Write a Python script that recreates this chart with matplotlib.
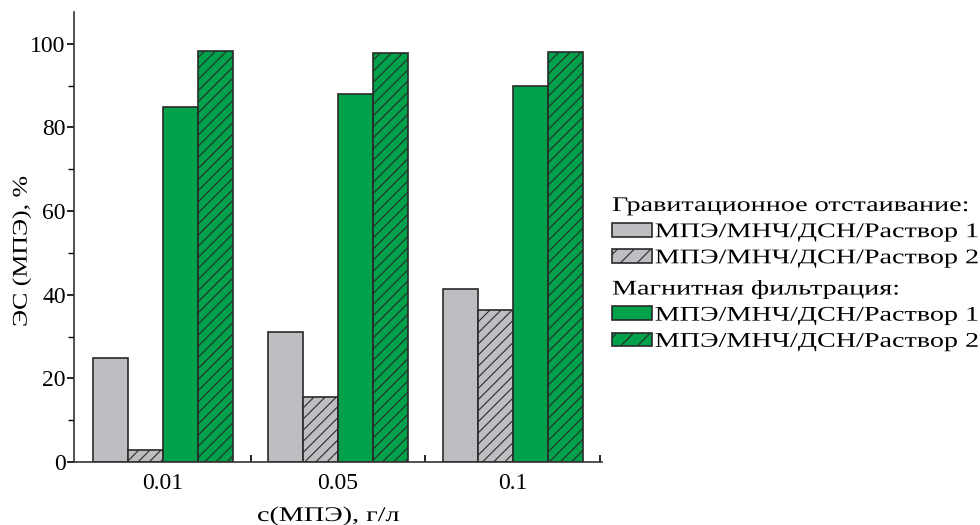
import numpy as np
import matplotlib.pyplot as plt
from matplotlib.patches import Patch
from matplotlib.patheffects import AbstractPathEffect
from matplotlib.transforms import Affine2D
from matplotlib.ticker import MultipleLocator, FixedLocator

plt.rcParams['font.family'] = ['Liberation Serif', 'DejaVu Serif']
plt.rcParams['hatch.linewidth'] = 0.8
plt.rcParams['hatch.color'] = '#2a2a2a'

# data
concentrations = ['0.01', '0.05', '0.1']
grav_sol1 = [24.9, 31.0, 41.3]
grav_sol2 = [2.8, 15.5, 36.3]
magn_sol1 = [84.8, 88.0, 89.9]
magn_sol2 = [98.2, 97.8, 98.0]

label_1 = 'МПЭ/МНЧ/ДСН/Раствор 1'
label_2 = 'МПЭ/МНЧ/ДСН/Раствор 2'

GREY = '#bdbec2'
GREEN = '#00a14b'
EDGE = '#2a2a2a'


class Wide(AbstractPathEffect):
    """stretch glyphs along the baseline (the original font is wider)"""
    def __init__(self, sx=1.35):
        super().__init__()
        self.sx = sx

    def draw_path(self, renderer, gc, tpath, affine, rgbFace=None):
        renderer.draw_path(gc, tpath, Affine2D().scale(self.sx, 1) + affine, rgbFace)


wide = [Wide(1.35)]

fig = plt.figure(figsize=(9.8, 5.25), dpi=100)
ax = fig.add_axes([74/980, 1-462/525, (602-74)/980, (462-12)/525])

x = np.arange(len(concentrations))
w = 0.2
styles = [(grav_sol1, GREY, ''), (grav_sol2, GREY, '///'),
          (magn_sol1, GREEN, ''), (magn_sol2, GREEN, '///')]
for i, (vals, col, hatch) in enumerate(styles):
    ax.bar(x + (i-1.5)*w, vals, width=w, color=col, edgecolor=EDGE,
           linewidth=1.2, hatch=hatch, zorder=2)

ax.set_xlim(-0.51, 2.51)
ax.set_ylim(0, 107.6)
ax.spines['top'].set_visible(False)
ax.spines['right'].set_visible(False)
for s in ['left', 'bottom']:
    ax.spines[s].set_linewidth(1.2)
    ax.spines[s].set_color('#333333')

ax.set_xticks(x)
ax.set_xticklabels(concentrations)
ax.xaxis.set_minor_locator(FixedLocator([0.5, 1.5, 2.5]))
ax.tick_params(axis='x', which='major', length=0, pad=8, labelsize=17)
ax.tick_params(axis='x', which='minor', direction='in', length=5, width=1.2)
ax.yaxis.set_major_locator(MultipleLocator(20))
ax.yaxis.set_minor_locator(MultipleLocator(10))
ax.tick_params(axis='y', which='major', direction='out', length=5, width=1.2,
               pad=1, labelsize=17)
ax.tick_params(axis='y', which='minor', direction='out', length=4, width=1.0)

# axis titles, left-anchored so the stretch grows away from the anchor
fig.text(257/980, 1-521/525, 'c(МПЭ), г/л', fontsize=15, ha='left',
         va='baseline', path_effects=wide)
fig.text(22/980, 1-327/525, 'ЭС (МПЭ), %', fontsize=15, rotation=90,
         ha='center', va='bottom', path_effects=[Wide(1.24)])

# legend in two blocks
h1 = [Patch(facecolor=GREY, edgecolor=EDGE, linewidth=1.2),
      Patch(facecolor=GREY, edgecolor=EDGE, linewidth=1.2, hatch='//')]
h2 = [Patch(facecolor=GREEN, edgecolor=EDGE, linewidth=1.2),
      Patch(facecolor=GREEN, edgecolor=EDGE, linewidth=1.2, hatch='//')]
kw = dict(frameon=False, fontsize=15, title_fontsize=15, alignment='left',
          handlelength=1.9, handleheight=0.65, handletextpad=0.15,
          borderpad=0, borderaxespad=0, labelspacing=0.33, loc='upper left')
leg1 = fig.legend(h1, [label_1, label_2], title='Гравитационное отстаивание:',
                  bbox_to_anchor=(612/980, 1-197/525), **kw)
leg2 = fig.legend(h2, [label_1, label_2], title='Магнитная фильтрация:',
                  bbox_to_anchor=(612/980, 1-280/525), **kw)
for lg in (leg1, leg2):
    for t in lg.get_texts() + [lg.get_title()]:
        t.set_path_effects(wide)

fig.savefig('out.png', dpi=100)
